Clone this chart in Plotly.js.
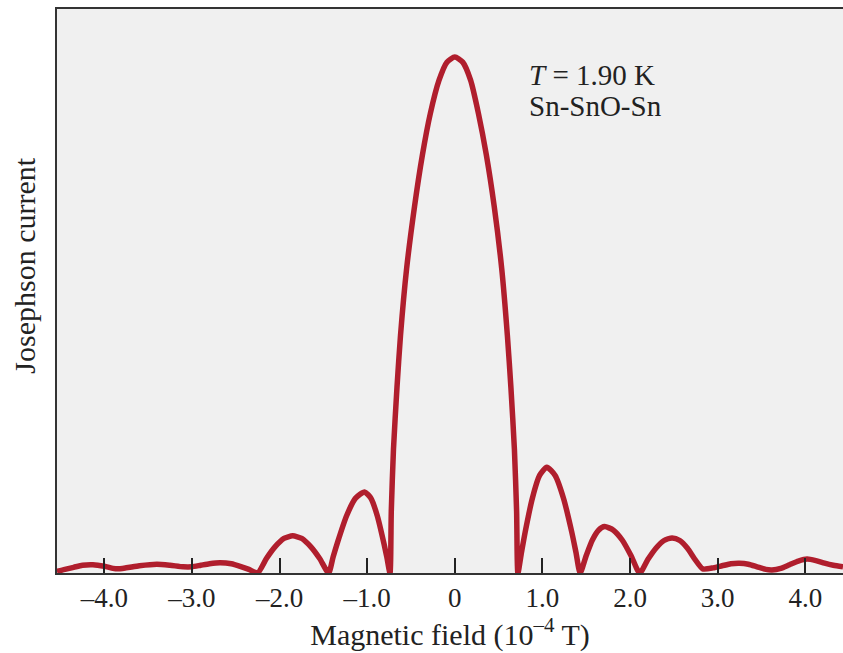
<!DOCTYPE html>
<html>
<head>
<meta charset="utf-8">
<script src="https://cdn.plot.ly/plotly-3.0.1.min.js"></script>
<style>html,body{margin:0;padding:0;background:#fff;}#chart{width:843px;height:653px;}</style>
</head>
<body>
<div id="chart"></div>
<script>
// Magnetic field (10^-4 T)
const fieldValues = [
  -4.54, -4.45, -4.35, -4.25, -4.13, -4.0, -3.9, -3.85, -3.75, -3.6, -3.4, -3.25, -3.1, -3.0, -2.9, -2.8, -2.68, -2.55, -2.45, -2.35, -2.25,
  -2.15, -2.05, -1.95, -1.85, -1.7475, -1.645, -1.5425, -1.44,
  -1.389, -1.3375, -1.235, -1.1325, -1.03, -0.9575, -0.885, -0.8125, -0.776, -0.74,
  -0.725, -0.70, -0.66, -0.62, -0.55, -0.46, -0.37, -0.28, -0.18, -0.09, 0, 0.09, 0.18, 0.27, 0.36, 0.45, 0.535, 0.60, 0.64, 0.68, 0.705, 0.72,
  0.761, 0.8025, 0.885, 0.9675, 1.05, 1.145, 1.24, 1.335, 1.3825, 1.43,
  1.50, 1.57, 1.64, 1.71, 1.81, 1.91, 2.01, 2.11,
  2.2025, 2.295, 2.3875, 2.48, 2.5675, 2.655, 2.7425, 2.83,
  2.95, 3.05, 3.15, 3.25, 3.35, 3.45, 3.55, 3.62, 3.72, 3.82, 3.92, 4.02, 4.12, 4.22, 4.32, 4.43
];
// Josephson current (relative to central maximum)
const currentValues = [
  0.003, 0.007, 0.011, 0.015, 0.016, 0.013, 0.009, 0.008, 0.010, 0.014, 0.017, 0.015, 0.012, 0.012, 0.015, 0.018, 0.020, 0.018, 0.013, 0.007, 0.0,
  0.028, 0.051, 0.067, 0.072, 0.067, 0.051, 0.028, 0.0,
  0.031, 0.060, 0.111, 0.145, 0.157, 0.145, 0.111, 0.060, 0.031, 0.0,
  0.12, 0.24, 0.36, 0.46, 0.59, 0.71, 0.81, 0.89, 0.955, 0.99, 1.0, 0.99, 0.955, 0.89, 0.81, 0.71, 0.59, 0.46, 0.36, 0.24, 0.12, 0.0,
  0.040, 0.079, 0.145, 0.189, 0.205, 0.189, 0.145, 0.079, 0.040, 0.0,
  0.034, 0.064, 0.083, 0.090, 0.083, 0.064, 0.034, 0.0,
  0.026, 0.048, 0.063, 0.068, 0.063, 0.048, 0.026, 0.008,
  0.010, 0.014, 0.018, 0.019, 0.017, 0.012, 0.007, 0.006, 0.009, 0.016, 0.023, 0.027, 0.024, 0.019, 0.015, 0.012
];
const tickValues = [-4, -3, -2, -1, 0, 1, 2, 3, 4];
const tickLabels = ['–4.0', '–3.0', '–2.0', '–1.0', '0', '1.0', '2.0', '3.0', '4.0'];

const serif = 'Liberation Serif, Times New Roman, serif';

const trace = {
  x: fieldValues,
  y: currentValues,
  type: 'scatter',
  mode: 'lines',
  line: {color: '#b01e2d', width: 5.5, shape: 'spline', smoothing: 0.6},
  hoverinfo: 'x+y'
};

const layout = {
  width: 843,
  height: 653,
  margin: {l: 57, r: 0, t: 9, b: 80},
  paper_bgcolor: '#ffffff',
  plot_bgcolor: '#f0f0f0',
  showlegend: false,
  xaxis: {
    range: [-4.54, 4.43],
    tickmode: 'array',
    tickvals: tickValues,
    ticktext: tickLabels,
    ticks: 'inside',
    ticklen: 15,
    tickwidth: 2,
    tickcolor: '#222',
    showline: true,
    linecolor: '#333',
    linewidth: 2,
    mirror: true,
    showgrid: false,
    zeroline: false,
    tickfont: {family: serif, size: 27, color: '#222'},
    title: {text: 'Magnetic field (10<sup>–4</sup> T)', font: {family: serif, size: 30, color: '#222'}, standoff: 10}
  },
  yaxis: {
    range: [0, 1.093],
    showline: true,
    linecolor: '#333',
    linewidth: 2,
    showticklabels: false,
    ticks: '',
    showgrid: false,
    zeroline: false
  },
  annotations: [
    {
      x: -0.0407, y: 0.545, xref: 'paper', yref: 'paper',
      xanchor: 'center', yanchor: 'middle', textangle: -90,
      showarrow: false,
      text: 'Josephson current',
      font: {family: serif, size: 30, color: '#222'}
    },
    {
      x: 0.82, y: 0.965, xref: 'x', yref: 'y',
      xanchor: 'left', yanchor: 'middle', align: 'left',
      showarrow: false,
      text: '<i>T</i> = 1.90 K',
      font: {family: serif, size: 29, color: '#222'}
    },
    {
      x: 0.82, y: 0.905, xref: 'x', yref: 'y',
      xanchor: 'left', yanchor: 'middle', align: 'left',
      showarrow: false,
      text: 'Sn-SnO-Sn',
      font: {family: serif, size: 29, color: '#222'}
    }
  ]
};

Plotly.newPlot('chart', [trace], layout, {displayModeBar: false, staticPlot: true});
</script>
</body>
</html>
